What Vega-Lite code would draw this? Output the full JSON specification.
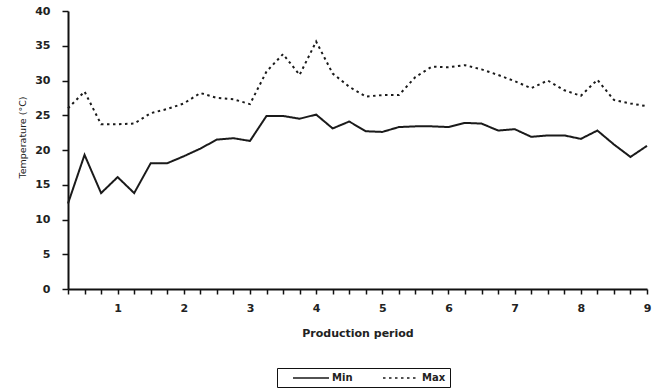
{
  "$schema": "https://vega.github.io/schema/vega-lite/v6.json",
  "width": 579,
  "height": 278,
  "autosize": "none",
  "padding": {"left": 68, "top": 11, "right": 12, "bottom": 102},
  "background": "white",
  "config": {
    "view": {"stroke": null},
    "axis": {"grid": false, "domainColor": "#111", "tickColor": "#111", "labelColor": "#222", "titleColor": "#222", "labelFont": "DejaVu Sans", "titleFont": "DejaVu Sans"},
    "legend": {"labelFont": "DejaVu Sans"}
  },
  "data": {"values": [
    {"period": 0.25, "series": "Min", "temp": 12.3},
    {"period": 0.5, "series": "Min", "temp": 19.3},
    {"period": 0.75, "series": "Min", "temp": 13.8},
    {"period": 1.0, "series": "Min", "temp": 16.1},
    {"period": 1.25, "series": "Min", "temp": 13.8},
    {"period": 1.5, "series": "Min", "temp": 18.1},
    {"period": 1.75, "series": "Min", "temp": 18.1},
    {"period": 2.0, "series": "Min", "temp": 19.1},
    {"period": 2.25, "series": "Min", "temp": 20.2},
    {"period": 2.5, "series": "Min", "temp": 21.5},
    {"period": 2.75, "series": "Min", "temp": 21.7},
    {"period": 3.0, "series": "Min", "temp": 21.3},
    {"period": 3.25, "series": "Min", "temp": 24.9},
    {"period": 3.5, "series": "Min", "temp": 24.9},
    {"period": 3.75, "series": "Min", "temp": 24.5},
    {"period": 4.0, "series": "Min", "temp": 25.1},
    {"period": 4.25, "series": "Min", "temp": 23.1},
    {"period": 4.5, "series": "Min", "temp": 24.1},
    {"period": 4.75, "series": "Min", "temp": 22.7},
    {"period": 5.0, "series": "Min", "temp": 22.6},
    {"period": 5.25, "series": "Min", "temp": 23.3},
    {"period": 5.5, "series": "Min", "temp": 23.4},
    {"period": 5.75, "series": "Min", "temp": 23.4},
    {"period": 6.0, "series": "Min", "temp": 23.3},
    {"period": 6.25, "series": "Min", "temp": 23.9},
    {"period": 6.5, "series": "Min", "temp": 23.8},
    {"period": 6.75, "series": "Min", "temp": 22.8},
    {"period": 7.0, "series": "Min", "temp": 23.0},
    {"period": 7.25, "series": "Min", "temp": 21.9},
    {"period": 7.5, "series": "Min", "temp": 22.1},
    {"period": 7.75, "series": "Min", "temp": 22.1},
    {"period": 8.0, "series": "Min", "temp": 21.6},
    {"period": 8.25, "series": "Min", "temp": 22.8},
    {"period": 8.5, "series": "Min", "temp": 20.8},
    {"period": 8.75, "series": "Min", "temp": 19.0},
    {"period": 9.0, "series": "Min", "temp": 20.6},
    {"period": 0.25, "series": "Max", "temp": 26.0},
    {"period": 0.5, "series": "Max", "temp": 28.4},
    {"period": 0.75, "series": "Max", "temp": 23.7},
    {"period": 1.0, "series": "Max", "temp": 23.7},
    {"period": 1.25, "series": "Max", "temp": 23.8},
    {"period": 1.5, "series": "Max", "temp": 25.3},
    {"period": 1.75, "series": "Max", "temp": 25.9},
    {"period": 2.0, "series": "Max", "temp": 26.7},
    {"period": 2.25, "series": "Max", "temp": 28.2},
    {"period": 2.5, "series": "Max", "temp": 27.5},
    {"period": 2.75, "series": "Max", "temp": 27.3},
    {"period": 3.0, "series": "Max", "temp": 26.6},
    {"period": 3.25, "series": "Max", "temp": 31.3},
    {"period": 3.5, "series": "Max", "temp": 33.8},
    {"period": 3.75, "series": "Max", "temp": 30.8},
    {"period": 4.0, "series": "Max", "temp": 35.6},
    {"period": 4.25, "series": "Max", "temp": 31.0},
    {"period": 4.5, "series": "Max", "temp": 29.1},
    {"period": 4.75, "series": "Max", "temp": 27.7},
    {"period": 5.0, "series": "Max", "temp": 27.9},
    {"period": 5.25, "series": "Max", "temp": 27.9},
    {"period": 5.5, "series": "Max", "temp": 30.5},
    {"period": 5.75, "series": "Max", "temp": 32.0},
    {"period": 6.0, "series": "Max", "temp": 31.9},
    {"period": 6.25, "series": "Max", "temp": 32.2},
    {"period": 6.5, "series": "Max", "temp": 31.6},
    {"period": 6.75, "series": "Max", "temp": 30.8},
    {"period": 7.0, "series": "Max", "temp": 29.9},
    {"period": 7.25, "series": "Max", "temp": 28.9},
    {"period": 7.5, "series": "Max", "temp": 30.0},
    {"period": 7.75, "series": "Max", "temp": 28.6},
    {"period": 8.0, "series": "Max", "temp": 27.8},
    {"period": 8.25, "series": "Max", "temp": 30.1},
    {"period": 8.5, "series": "Max", "temp": 27.2},
    {"period": 8.75, "series": "Max", "temp": 26.7},
    {"period": 9.0, "series": "Max", "temp": 26.3}
  ]},
  "mark": {"type": "line", "color": "#1a1a1a", "strokeWidth": 2},
  "encoding": {
    "x": {
      "field": "period",
      "type": "quantitative",
      "scale": {"domain": [0.25, 9], "nice": false, "zero": false},
      "axis": {
        "values": [0.25, 0.5, 0.75, 1, 1.25, 1.5, 1.75, 2, 2.25, 2.5, 2.75, 3, 3.25, 3.5, 3.75, 4, 4.25, 4.5, 4.75, 5, 5.25, 5.5, 5.75, 6, 6.25, 6.5, 6.75, 7, 7.25, 7.5, 7.75, 8, 8.25, 8.5, 8.75, 9],
        "labelExpr": "datum.value % 1 === 0 ? format(datum.value, 'd') : ''",
        "labelOverlap": false,
        "labelFlush": false,
        "labelBound": false,
        "tickSize": 5,
        "tickWidth": 1.5,
        "domainWidth": 2,
        "labelPadding": 8,
        "labelFontSize": 11,
        "labelFontWeight": "bold",
        "title": "Production period",
        "titleFontSize": 11,
        "titleFontWeight": "bold",
        "titlePadding": 14
      }
    },
    "y": {
      "field": "temp",
      "type": "quantitative",
      "scale": {"domain": [0, 40], "nice": false},
      "axis": {
        "values": [0, 5, 10, 15, 20, 25, 30, 35, 40],
        "tickSize": 6,
        "tickWidth": 1.5,
        "domainWidth": 2,
        "labelPadding": 12,
        "labelFontSize": 11,
        "labelFontWeight": "bold",
        "title": "Temperature (°C)",
        "titleFontSize": 9.5,
        "titleFontWeight": "normal",
        "titleAngle": 270,
        "titleX": -46,
        "titleY": 126,
        "titleAlign": "center",
        "titleBaseline": "middle"
      }
    },
    "strokeDash": {
      "field": "series",
      "type": "nominal",
      "scale": {"domain": ["Min", "Max"], "range": [[1, 0], [2.5, 3.5]]},
      "legend": {
        "title": null,
        "orient": "none",
        "legendX": 209,
        "legendY": 357,
        "direction": "horizontal",
        "strokeColor": "#111",
        "fillColor": "white",
        "padding": 4,
        "symbolType": "M-1,0H6.2",
        "symbolSize": 100,
        "symbolStrokeWidth": 1.5,
        "symbolStrokeColor": "#1a1a1a",
        "symbolFillColor": "transparent",
        "symbolOffset": 11,
        "labelOffset": 28,
        "labelFontSize": 10,
        "labelFontWeight": "bold",
        "labelColor": "#222",
        "columnPadding": 18
      }
    }
  }
}
